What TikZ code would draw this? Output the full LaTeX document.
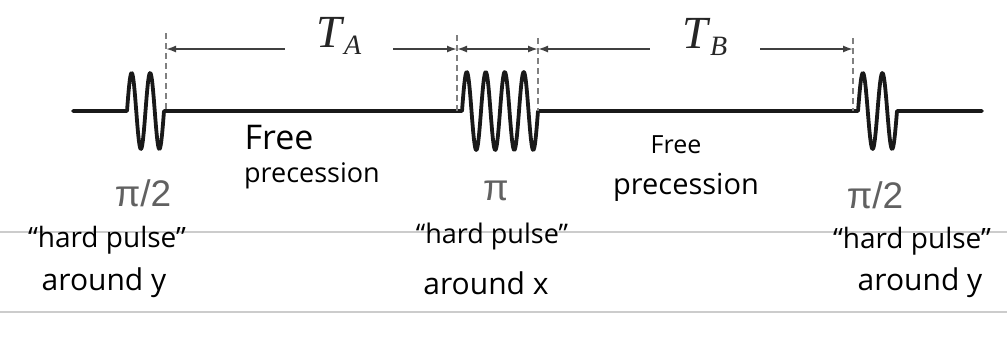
\documentclass[tikz,border=0pt]{standalone}
\usepackage{fontspec}
\setmainfont{Liberation Serif}
\newfontfamily\handfont{Open Sans}
\newfontfamily\labfont{Liberation Sans}
\usetikzlibrary{arrows.meta}
\newcommand\myT[1]{\textit{T}\kern-1pt\raisebox{-7pt}{\fontsize{28}{28}\selectfont\textit{#1}}}
\tikzset{
  pulse/.style={line width=3.8pt, draw=black!90, line join=round, line cap=round},
  guide/.style={line width=2.2pt, draw=black!50, dash pattern=on 6pt off 4pt},
  dimarrow/.style={line width=1.7pt, draw=black!75, -{Latex[length=10pt,width=7pt]}},
  dimlabel/.style={inner sep=0pt, text=black!85, font=\fontsize{46}{46}\selectfont},
  angle/.style={inner sep=0pt, text=black!62, font=\labfont\fontsize{37}{37}\selectfont},
  hand/.style={inner sep=0pt, font=\handfont\fontsize{#1}{#1}\selectfont},
  hand/.default=28,
  rule/.style={line width=1.6pt, draw=black!20}
}
\begin{document}
\begin{tikzpicture}[x=1pt,y=-1pt]
\useasboundingbox (0,0) rectangle (1007,346);
% ruled lines of the notebook
\draw[rule] (0,232) -- (1007,232);
\draw[rule] (0,312) -- (1007,312);
% pulse sequence
\draw[pulse] (73,111) -- (127,111)
  -- plot[domain=127:164, samples=90, smooth] (\x,{111-38*sin(19.459*(\x-127))})
  -- (462,111)
  -- plot[domain=462:538, samples=180, smooth] (\x,{111-39*sin(18.947*(\x-462))})
  -- (858,111)
  -- plot[domain=858:897, samples=90, smooth] (\x,{111-38*sin(18.462*(\x-858))})
  -- (982,111);
% guides
\draw[guide] (166,33) -- (166,111);
\draw[guide] (457,35) -- (457,111);
\draw[guide] (538,38) -- (538,111);
\draw[guide] (853,38) -- (853,111);
% dimension points
\coordinate (d1) at (166,49);
\coordinate (d2) at (457,49);
\coordinate (d3) at (538,49);
\coordinate (d4) at (853,49);
\node[dimlabel, minimum width=108pt] (TA) at (339,36) {\myT{A}};
\node[dimlabel, minimum width=110pt] (TB) at (705,37) {\myT{B}};
\draw[dimarrow] (TA.west |- d1) -- (d1);
\draw[dimarrow] (TA.east |- d2) -- (d2);
\draw[dimarrow, {Latex[length=10pt,width=7pt]}-{Latex[length=10pt,width=7pt]}] (d2) -- (d3);
\draw[dimarrow] (TB.west |- d3) -- (d3);
\draw[dimarrow] (TB.east |- d4) -- (d4);
% angle labels
\node[angle] (p1) at (143,193) {π/2};
\node[angle] (p2) at (496,191) {π};
\node[angle] (p3) at (875,195) {π/2};
% handwritten notes
\node[hand=34] (f1) at (279,138) {Free};
\node[hand=27] (pr1) at (312,176) {precession};
\node[hand=25] (f2) at (676,145) {Free};
\node[hand=29] (pr2) at (686,187) {precession};
\node[hand=28] (h1) at (107,240) {“hard pulse”};
\node[hand=30] (a1) at (104,283) {around y};
\node[hand=27] (h2) at (492,236) {“hard pulse”};
\node[hand=30] (a2) at (486,283) {around x};
\node[hand=28] (h3) at (912,241) {“hard pulse”};
\node[hand=30] (a3) at (920,283) {around y};
\end{tikzpicture}
\end{document}
